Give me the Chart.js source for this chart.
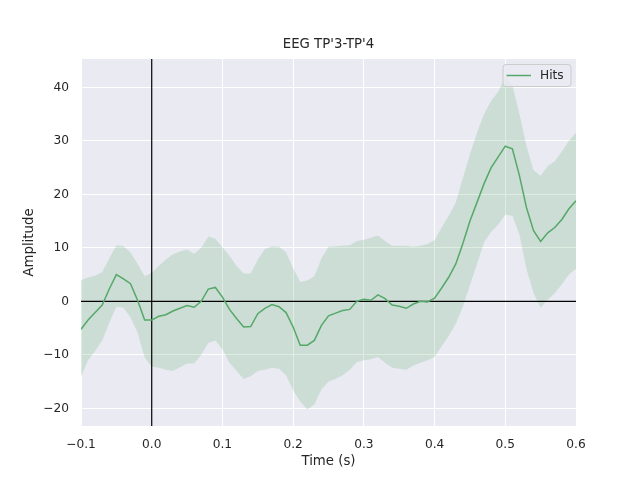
<!DOCTYPE html>
<html>
<head>
<meta charset="utf-8">
<script src="https://cdn.jsdelivr.net/npm/chart.js@4.4.1/dist/chart.umd.min.js"></script>
<style>
html,body{margin:0;padding:0;background:#ffffff;}
canvas{display:block;}
</style>
</head>
<body>
<canvas id="c" width="640" height="480"></canvas>
<script>
// ---- data ----
const times = [-0.10,-0.09,-0.08,-0.07,-0.06,-0.05,-0.04,-0.03,-0.02,-0.01,
  0.00,0.01,0.02,0.03,0.04,0.05,0.06,0.07,0.08,0.09,
  0.10,0.11,0.12,0.13,0.14,0.15,0.16,0.17,0.18,0.19,
  0.20,0.21,0.22,0.23,0.24,0.25,0.26,0.27,0.28,0.29,
  0.30,0.31,0.32,0.33,0.34,0.35,0.36,0.37,0.38,0.39,
  0.40,0.41,0.42,0.43,0.44,0.45,0.46,0.47,0.48,0.49,
  0.50,0.51,0.52,0.53,0.54,0.55,0.56,0.57,0.58,0.59,0.60];
const hitsMean = [-5.2,-3.5,-2.1,-0.7,2.3,5.0,4.2,3.3,0.2,-3.5,
  -3.5,-2.8,-2.5,-1.8,-1.3,-0.8,-1.1,0.0,2.3,2.6,
  0.8,-1.5,-3.2,-4.8,-4.7,-2.3,-1.3,-0.6,-1.0,-2.1,
  -4.8,-8.2,-8.2,-7.3,-4.5,-2.7,-2.2,-1.7,-1.5,0.0,
  0.4,0.2,1.2,0.5,-0.7,-0.9,-1.3,-0.5,0.0,-0.1,
  0.6,2.5,4.5,7.0,10.8,15.0,18.5,22.0,25.0,27.0,
  29.0,28.5,23.5,17.5,13.2,11.2,12.8,13.8,15.3,17.3,18.8];
const hitsUpper = [3.9,4.5,4.8,5.5,8.0,10.5,10.3,9.2,7.0,4.7,
  5.3,6.6,7.8,8.8,9.3,9.7,8.9,10.0,12.1,11.7,
  10.1,8.5,6.6,5.2,5.2,7.8,9.8,10.3,10.2,9.2,
  6.2,3.6,3.9,4.7,8.0,10.2,10.3,10.4,10.5,11.3,
  11.5,11.9,12.3,11.3,10.4,10.4,10.4,10.2,10.4,10.7,
  11.4,13.8,16.0,18.5,23.0,27.5,31.5,35.0,37.5,39.2,
  42.0,40.5,35.0,29.0,24.5,23.5,25.3,26.2,28.0,30.0,31.5];
const hitsLower = [-14.1,-11.0,-9.3,-7.3,-4.0,-1.0,-1.2,-3.0,-5.8,-10.5,
  -12.2,-12.4,-12.8,-13.0,-12.3,-11.6,-11.6,-10.0,-7.8,-7.3,
  -9.0,-11.5,-13.0,-14.5,-14.0,-13.0,-12.8,-12.4,-12.6,-13.8,
  -16.6,-18.7,-20.2,-19.3,-16.5,-15.0,-14.5,-13.8,-12.8,-11.4,
  -11.0,-10.8,-10.4,-11.5,-12.4,-12.6,-12.8,-12.0,-11.5,-11.0,
  -10.4,-8.4,-6.5,-4.2,-1.0,3.0,7.0,11.0,13.0,14.3,
  16.2,16.0,12.5,6.0,1.5,-1.2,0.3,1.5,3.2,5.0,6.1];
const xTicks = [-0.1,0.0,0.1,0.2,0.3,0.4,0.5,0.6];
const yTicks = [-20,-10,0,10,20,30,40];
const seriesName = "Hits";
const chartTitle = "EEG TP'3-TP'4";
const xLabel = "Time (s)";
const yLabel = "Amplitude";
const X_MIN = -0.1, X_MAX = 0.6, Y_MIN = -23.3, Y_MAX = 45.3;

// ---- build ----
const pts = (ys) => times.map((t, i) => ({x: t, y: ys[i]}));
const GREEN = '#55A868';
const TXT = '#262626';
const FONT = "'DejaVu Sans', sans-serif";
const minus = (v, s) => (v < -1e-9 ? '\u2212' : '') + s;
const fmtX = (v) => minus(v, Math.abs(v).toFixed(1));
const fmtY = (v) => minus(v, String(Math.round(Math.abs(v))));

const bgPlugin = {
  id: 'bg',
  beforeDraw(chart) {
    const {ctx, chartArea: a} = chart;
    ctx.save();
    ctx.fillStyle = '#EAEAF2';
    ctx.fillRect(a.left, a.top, a.right - a.left, a.bottom - a.top);
    ctx.restore();
  }
};
const titlePlugin = {
  id: 'plotTitle',
  afterDraw(chart) {
    const {ctx, chartArea: a} = chart;
    ctx.save();
    ctx.fillStyle = TXT;
    ctx.font = "13.3px " + FONT;
    ctx.textAlign = 'center';
    ctx.textBaseline = 'middle';
    ctx.fillText(chartTitle, (a.left + a.right) / 2, a.top - 14);
    ctx.restore();
  }
};
const legendPlugin = {
  id: 'boxLegend',
  afterDraw(chart) {
    const {ctx, chartArea: a} = chart;
    const w = 68, h = 22, x = a.right - 5.5 - w, y = a.top + 5;
    ctx.save();
    ctx.beginPath();
    ctx.roundRect(x + 0.5, y + 0.5, w, h, 3);
    ctx.fillStyle = 'rgba(234,234,242,0.8)';
    ctx.fill();
    ctx.strokeStyle = '#cccccc';
    ctx.lineWidth = 1;
    ctx.stroke();
    ctx.beginPath();
    ctx.moveTo(x + 4, y + h / 2 + 0.5);
    ctx.lineTo(x + 28.5, y + h / 2 + 0.5);
    ctx.strokeStyle = GREEN;
    ctx.lineWidth = 1.5;
    ctx.stroke();
    ctx.fillStyle = TXT;
    ctx.font = "12.2px " + FONT;
    ctx.textBaseline = 'middle';
    ctx.fillText(seriesName, x + 37.5, y + h / 2 + 0.5);
    ctx.restore();
  }
};

new Chart(document.getElementById('c'), {
  type: 'line',
  data: {
    datasets: [
      {label: seriesName, data: pts(hitsMean), borderColor: GREEN, borderWidth: 1.5, pointRadius: 0, fill: false, tension: 0},
      {label: 'v0', data: [{x: 0, y: Y_MIN}, {x: 0, y: Y_MAX}], borderColor: '#000000', borderWidth: 1.2, pointRadius: 0, fill: false},
      {label: 'h0', data: [{x: X_MIN, y: 0}, {x: X_MAX, y: 0}], borderColor: '#000000', borderWidth: 1.2, pointRadius: 0, fill: false},
      {label: 'upper', data: pts(hitsUpper), borderWidth: 0, borderColor: 'rgba(0,0,0,0)', pointRadius: 0, fill: '+1', backgroundColor: 'rgba(85,168,104,0.2)'},
      {label: 'lower', data: pts(hitsLower), borderWidth: 0, borderColor: 'rgba(0,0,0,0)', pointRadius: 0, fill: false}
    ]
  },
  options: {
    responsive: false,
    animation: false,
    devicePixelRatio: 1,
    layout: {padding: {left: 0, right: 64, top: 59, bottom: 0}},
    plugins: {
      legend: {display: false},
      tooltip: {enabled: false},
      title: {display: false}
    },
    scales: {
      x: {
        type: 'linear', min: X_MIN, max: X_MAX,
        afterBuildTicks: (s) => { s.ticks = xTicks.map(v => ({value: v})); },
        afterFit: (s) => { s.height = 54; },
        grid: {color: '#ffffff', lineWidth: 1, drawTicks: false},
        border: {display: false},
        ticks: {color: TXT, font: {family: FONT, size: 12.2}, padding: 12, maxRotation: 0, callback: (v) => fmtX(v)},
        title: {display: true, text: xLabel, color: TXT, font: {family: FONT, size: 13.3}, padding: {top: 0, bottom: 10}}
      },
      y: {
        type: 'linear', min: Y_MIN, max: Y_MAX,
        afterBuildTicks: (s) => { s.ticks = yTicks.map(v => ({value: v})); },
        afterFit: (s) => { s.width = 81; },
        grid: {color: '#ffffff', lineWidth: 1, drawTicks: false},
        border: {display: false},
        ticks: {color: TXT, font: {family: FONT, size: 12.2}, padding: 12, callback: (v) => fmtY(v)},
        title: {display: true, text: yLabel, color: TXT, font: {family: FONT, size: 13.3}, padding: {top: 22, bottom: 0}}
      }
    }
  },
  plugins: [bgPlugin, titlePlugin, legendPlugin]
});
</script>
</body>
</html>
